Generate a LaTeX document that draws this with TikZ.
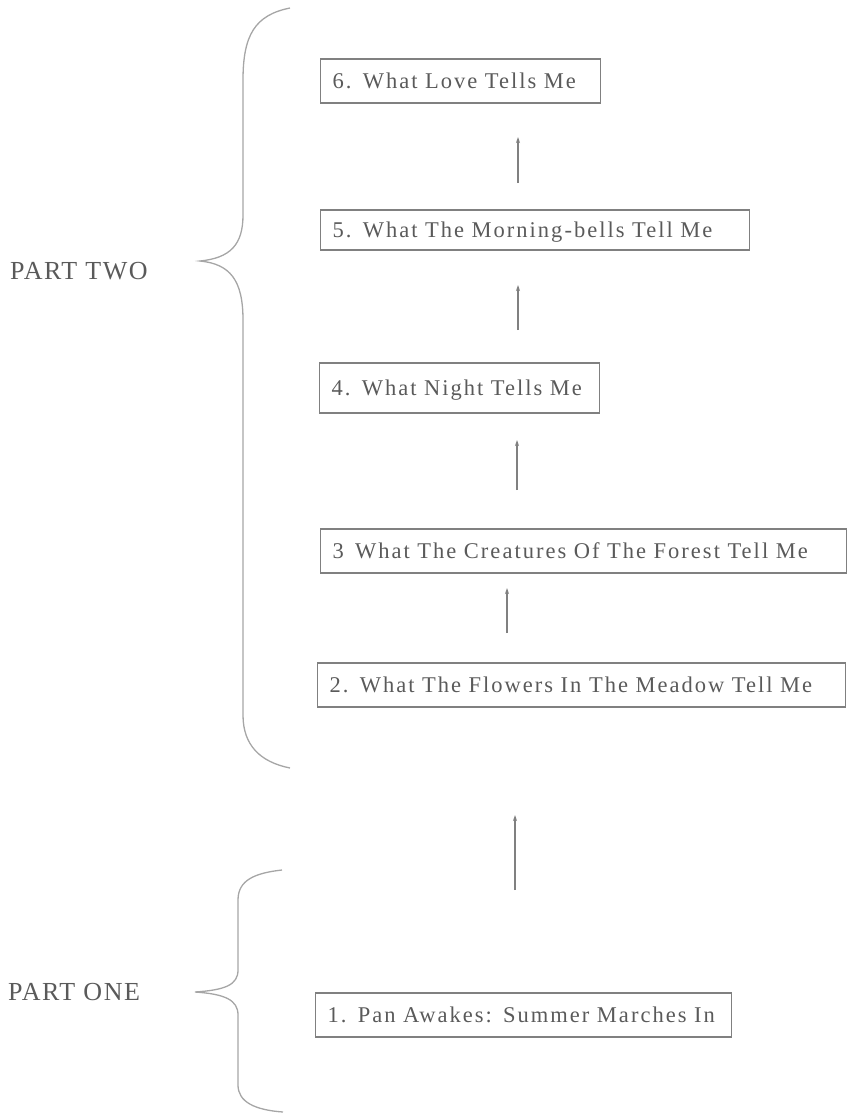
\documentclass[tikz,border=0pt]{standalone}
\usepackage{fontspec}
\setmainfont{Liberation Serif}
\newfontfamily\boxfont[LetterSpace=9]{Liberation Serif}
\newfontfamily\labfont[LetterSpace=6]{Liberation Serif}
\usetikzlibrary{arrows.meta}
\definecolor{txt}{HTML}{5A5A5A}
\definecolor{ln}{HTML}{808080}
\begin{document}
\begin{tikzpicture}[x=1pt,y=-1pt,
  box/.style={draw=ln,line width=1.2pt,anchor=west,text=txt,font=\boxfont\fontsize{22.5}{24}\selectfont,
    inner xsep=12pt,text depth=0pt,align=left,text width=#1,minimum height=44pt},
  lab/.style={text=txt,font=\labfont\fontsize{26}{28}\selectfont,anchor=west,inner sep=0pt},
  conn/.style={draw=ln,line width=1.2pt,-{Stealth[length=6pt,width=4pt]}},
  brace/.style={draw=ln!70,line width=1.3pt}]
\useasboundingbox (0,0) rectangle (847,1117);
\node[box=256pt] (b6) at (320,81) {\mbox{6. What Love Tells Me}};
\node[box=405pt,minimum height=40pt] (b5) at (320,230) {\mbox{5. What The Morning-bells Tell Me}};
\node[box=256pt,minimum height=50pt] (b4) at (319,388) {\mbox{4. What Night Tells Me}};
\node[box=502pt] (b3) at (320,551) {\mbox{3\, What The Creatures Of The Forest Tell Me}};
\node[box=504pt] (b2) at (317,685) {\mbox{2. What The Flowers In The Meadow Tell Me}};
\node[box=392pt] (b1) at (315,1015) {\mbox{1. Pan Awakes: Summer Marches In}};
\node[lab] (p2) at (10,271) {PART TWO};
\node[lab] (p1) at (8,992) {PART ONE};
% arrows
\coordinate (a1s) at (515,890); \coordinate (a1e) at (515,815);
\coordinate (a2s) at (507,633); \coordinate (a2e) at (507,588);
\coordinate (a3s) at (517,490); \coordinate (a3e) at (517,440);
\coordinate (a4s) at (518,330); \coordinate (a4e) at (518,285);
\coordinate (a5s) at (518,183); \coordinate (a5e) at (518,137);
\draw[conn] (a1s) -- (a1e);
\draw[conn] (a2s) -- (a2e);
\draw[conn] (a3s) -- (a3e);
\draw[conn] (a4s) -- (a4e);
\draw[conn] (a5s) -- (a5e);
% braces
\draw[brace] (290,8) .. controls (255,15) and (243,35) .. (243,80)
  -- (243,215) .. controls (243,245) and (230,258) .. (200,261)
  .. controls (230,264) and (243,280) .. (243,320)
  -- (243,715) .. controls (243,745) and (260,762) .. (290,768);
\draw[brace] (282,870) .. controls (255,873) and (238,880) .. (238,900)
  -- (238,970) .. controls (238,985) and (225,990) .. (195,992)
  .. controls (225,994) and (238,1000) .. (238,1015)
  -- (238,1085) .. controls (238,1102) and (255,1110) .. (283,1112);
\end{tikzpicture}
\end{document}
